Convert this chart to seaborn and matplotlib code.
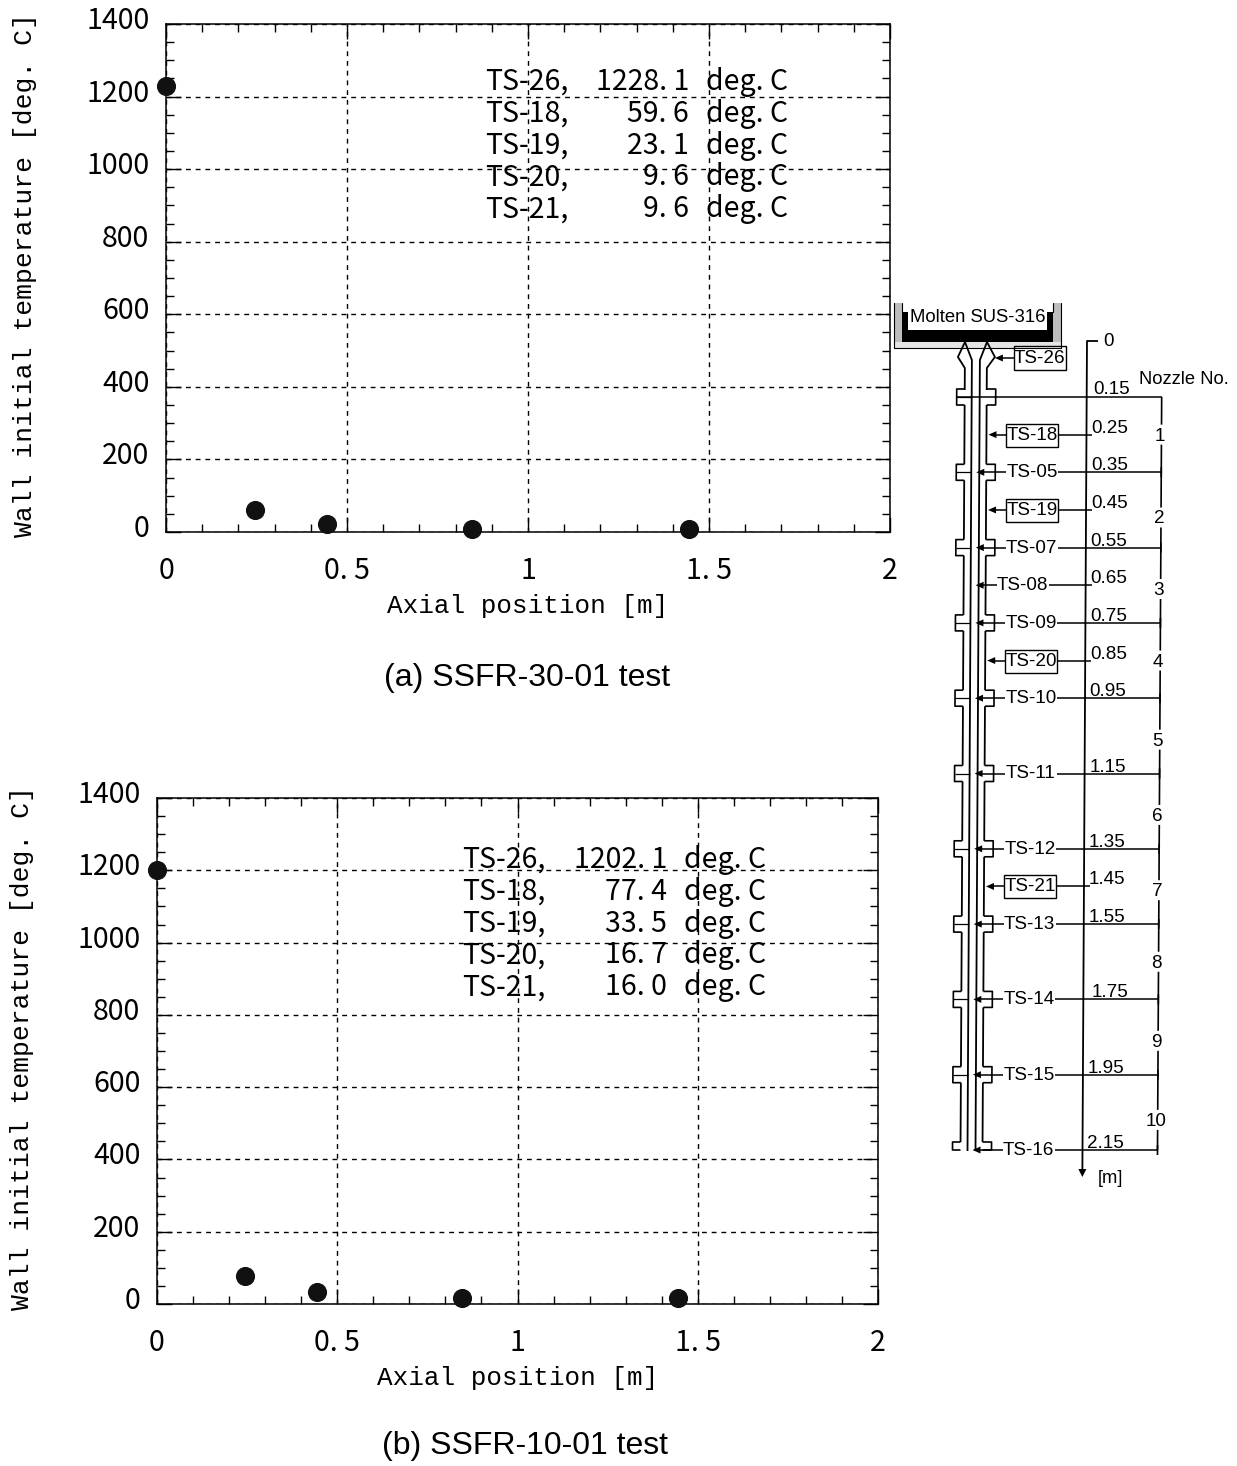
import matplotlib
matplotlib.use("Agg")
import matplotlib.pyplot as plt
import seaborn as sns
import pandas as pd
from matplotlib.ticker import MultipleLocator, FixedLocator, FixedFormatter
from matplotlib.transforms import ScaledTranslation
from matplotlib.patches import Rectangle

W, H = 1237, 1466
sensors = ["TS-26", "TS-18", "TS-19", "TS-20", "TS-21"]
position = [0.0, 0.245, 0.445, 0.845, 1.445]
temp_a = [1228.1, 59.6, 23.1, 9.6, 9.6]
temp_b = [1202.1, 77.4, 33.5, 16.7, 16.0]
xticks = [0, 0.5, 1, 1.5, 2]
xticklabels = ["0", "0. 5", "1", "1. 5", "2"]
yticks = [0, 200, 400, 600, 800, 1000, 1200, 1400]
xlabel = "Axial position [m]"
ylabel = "Wall initial temperature [deg. C]"
caption_a = "(a) SSFR-30-01 test"
caption_b = "(b) SSFR-10-01 test"

row_tags = ["TS-18", "TS-05", "TS-19", "TS-07", "TS-08", "TS-09", "TS-20", "TS-10",
            "TS-11", "TS-12", "TS-21", "TS-13", "TS-14", "TS-15", "TS-16"]
row_z = [0.25, 0.35, 0.45, 0.55, 0.65, 0.75, 0.85, 0.95, 1.15, 1.35, 1.45, 1.55, 1.75, 1.95, 2.15]
flange_z = [0.15, 0.35, 0.55, 0.75, 0.95, 1.15, 1.35, 1.55, 1.75, 1.95, 2.15]
nozzle_no = ["1", "2", "3", "4", "5", "6", "7", "8", "9", "10"]
nozzle_z = [0.25, 0.47, 0.66, 0.85, 1.06, 1.26, 1.46, 1.65, 1.86, 2.07]
boxed = ["TS-18", "TS-19", "TS-20", "TS-21"]

sns.set_theme(style="ticks")
plt.rcParams["font.family"] = ["Noto Sans CJK JP", "DejaVu Sans"]
plt.rcParams["lines.dash_capstyle"] = "butt"

fig = plt.figure(figsize=(W / 100, H / 100), dpi=100, facecolor="white")
MONO = "Liberation Mono"
ARIAL = "Liberation Sans"


def panel(left, right, top, bottom, temps, tx, ty, dy, val_x, unit_x, xl_y, yl_x):
    ax = fig.add_axes([left / W, 1 - bottom / H, (right - left) / W, (bottom - top) / H])
    ax.set_facecolor("white")
    df = pd.DataFrame({"z": position, "T": temps})
    ax.set_xlim(0, 2)
    ax.set_ylim(0, 1400)
    ax.set_axisbelow(True)
    ax.xaxis.set_major_locator(FixedLocator(xticks))
    ax.xaxis.set_major_formatter(FixedFormatter(xticklabels))
    ax.xaxis.set_minor_locator(MultipleLocator(0.1))
    ax.yaxis.set_major_locator(FixedLocator(yticks))
    ax.yaxis.set_minor_locator(MultipleLocator(50))
    ax.grid(True, which="major", color="black", lw=1.0, ls=(0, (3.5, 3.5)))
    ax.tick_params(which="major", direction="in", length=11, width=1, top=True, right=True,
                   colors="black", labelsize=20.5)
    ax.tick_params(which="minor", direction="in", length=5.5, width=1, top=True, right=True, colors="black")
    ax.tick_params(axis="y", which="major", pad=12)
    ax.tick_params(axis="x", which="major", pad=17)
    for s in ax.spines.values():
        s.set_linewidth(1.1)
        s.set_color("black")
    sns.scatterplot(data=df, x="z", y="T", ax=ax, color="#111111", s=190, linewidth=0,
                    clip_on=False, zorder=5, legend=False)
    ax.set_xlabel("")
    ax.set_ylabel("")
    off = ScaledTranslation(0, 6.5 / 100, fig.dpi_scale_trans)
    for t in ax.get_yticklabels():
        t.set_transform(t.get_transform() + off)
    for i, (n, v) in enumerate(zip(sensors, temps)):
        y = 1 - (ty + dy * i) / H
        kw = dict(transform=fig.transFigure, va="center", fontsize=20.5, color="black")
        fig.text(tx / W, y, n + ",", ha="left", **kw)
        fig.text(val_x / W, y, f"{v:.1f}".replace(".", ". "), ha="right", **kw)
        fig.text(unit_x / W, y, "deg. C", ha="left", **kw)
    fig.text((left + right) / 2 / W, 1 - xl_y / H, xlabel, ha="center", va="center",
             family=MONO, fontsize=18.7, color="black")
    fig.text(yl_x / W, 1 - (top + bottom - 6) / 2 / H, ylabel, rotation=90, ha="center", va="center",
             family=MONO, fontsize=19, color="black")
    return ax


panel(166, 890, 24, 532, temp_a, 485, 82, 31.8, 689, 706, 606, 25)
panel(157, 878, 798, 1304, temp_b, 462, 860, 31.8, 667, 684, 1378, 22)
fig.text(527 / W, 1 - 678 / H, caption_a, ha="center", va="center", family=ARIAL, fontsize=23, color="black")
fig.text(525 / W, 1 - 1446 / H, caption_b, ha="center", va="center", family=ARIAL, fontsize=23, color="black")

# Schematic of the test section, on a full-figure overlay measured in picture pixels
ov = fig.add_axes([0, 0, 1, 1], facecolor="none")
ov.set_xlim(0, W)
ov.set_ylim(H, 0)
ov.axis("off")


def Y(z):
    return 397 + (z - 0.15) * 376.5


def X(x, y):
    return x - 4.5 * (y - 340) / 810


def seg(xs, ys, lw=1.2, **kw):
    ov.plot([X(a, b) for a, b in zip(xs, ys)], ys, color="black", lw=lw, solid_capstyle="butt", **kw)


def head(x, y, direction, size=8):
    ov.fill([X(x, y), X(x + direction * size, y - 3.5), X(x + direction * size, y + 3.5)],
            [y, y - 3.5, y + 3.5], color="black", lw=0)


def sans(x, y, s, size=13.6, ha="center", **kw):
    ov.text(X(x, y), y + 1.5, s, ha=ha, va="center", family=ARIAL, fontsize=size, color="black", **kw)


# crucible
ov.add_patch(Rectangle((894, 303), 8, 45, fc="#bdbdbd", ec="none"))
ov.add_patch(Rectangle((1053, 303), 8, 45, fc="#bdbdbd", ec="none"))
ov.add_patch(Rectangle((894, 342), 167, 6, fc="#e4e4e4", ec="none"))
ov.add_patch(Rectangle((902, 330), 151, 12, fc="black", ec="none"))
ov.add_patch(Rectangle((902, 312), 6, 18, fc="black", ec="none"))
ov.add_patch(Rectangle((1047, 312), 6, 18, fc="black", ec="none"))
ov.plot([894, 894, 1061, 1061], [303, 348, 348, 303], color="black", lw=0.8)
ov.plot([902, 902], [303, 312], color="black", lw=0.8)
ov.plot([1053, 1053], [303, 312], color="black", lw=0.8)
sans(978, 316, "Molten SUS-316", size=13.3)

# nozzle head
seg([965, 958, 965, 965], [342, 357, 368, 390], lw=1.3)
seg([987, 995, 987, 987], [342, 357, 368, 390], lw=1.3)
seg([965, 972, 972], [342, 360, 1151], lw=1.3)
seg([987, 980, 980], [342, 360, 1151], lw=1.3)

# walls and flanges
fy = [Y(z) for z in flange_z]
for a, b in zip(fy[:-1], fy[1:]):
    seg([965, 965], [a + 8, b - 8], lw=1.3)
    seg([987, 987], [a + 8, b - 8], lw=1.3)
for z in flange_z:
    y = Y(z)
    last = z == flange_z[-1]
    low = y if last else y + 8
    for sign, inner, outer in ((-1, 965, 957), (1, 987, 996)):
        seg([inner, outer, outer, inner], [y - 8, y - 8, low, low], lw=1.2)
    if not last:
        seg([957, 972], [y, y], lw=0.9)

# depth axis and nozzle scale
seg([1098, 1087, 1087], [341, 341, 1170], lw=1.3)
ov.fill([X(1087, 1177) - 4, X(1087, 1177) + 4, X(1087, 1177)], [1169, 1169, 1177], color="black", lw=0)
sans(1108, 340, "0", size=13.6)
sans(1115, 1177, "[m]", size=13.2)
sans(1184, 378, "Nozzle No.", size=13.2)
seg([957, 1162], [397, 397], lw=1.1)
sans(1112, 388, "0.15", size=13.6)

# nozzle scale with gaps around numbers
scale_edges = [Y(0.15)] + [Y(z) + d for z in nozzle_z for d in (-10, 10)] + [Y(2.15)]
for a, b in zip(scale_edges[0::2], scale_edges[1::2]):
    seg([1162, 1162], [a, b], lw=1.2)
for n, z in zip(nozzle_no, nozzle_z):
    sans(1160, Y(z), n, size=13.6)

# sensor rows
ov.add_patch(Rectangle((1014, 346), 52, 24, fc="white", ec="black", lw=1, zorder=1.5))
sans(1040, 357, "TS-26", zorder=4)
seg([1014, 1002], [358, 358], lw=1.1)
head(995, 358, 1)

for tag, z in zip(row_tags, row_z):
    y = Y(z)
    is_box = tag in boxed
    flange = z in flange_z
    cx = 1024 if tag == "TS-08" else 1033
    half = 26
    if is_box:
        xb = X(cx - half, y)
        ov.add_patch(Rectangle((xb, y - 11), 2 * half, 23, fc="white", ec="black", lw=1, zorder=1.5))
    sans(cx, y - 1, tag, zorder=4)
    tip = 989 if is_box else 977
    seg([tip + 6, cx - half], [y, y], lw=1.1)
    head(tip, y, 1)
    end = 1162 if flange else 1093
    seg([cx + half, end], [y, y], lw=1.1)
    dx = 1114 if abs(z - 1.75) < 1e-6 else 1110
    sans(dx, y - 8, f"{z:.2f}", size=13.6)
    if flange:
        seg([1162, 1162], [y - 5, y + 5], lw=1.2)

fig.savefig("out.png", dpi=100, facecolor="white")
